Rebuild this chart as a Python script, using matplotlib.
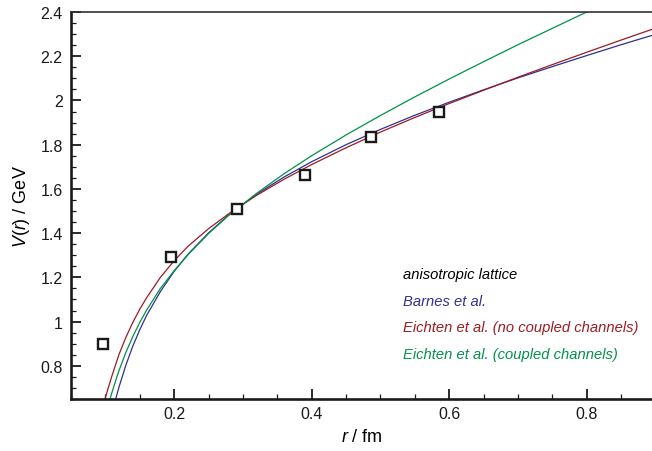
import matplotlib
matplotlib.use("Agg")
import matplotlib.pyplot as plt
from matplotlib.ticker import MultipleLocator, FuncFormatter

plt.rcParams['font.family'] = ['Liberation Sans', 'DejaVu Sans']
plt.rcParams['mathtext.fontset'] = 'custom'
plt.rcParams['mathtext.rm'] = 'Liberation Sans'
plt.rcParams['mathtext.it'] = 'Liberation Sans:italic'

# lattice data
lat_r = [0.097, 0.195, 0.292, 0.390, 0.487, 0.585]
lat_V = [0.900, 1.292, 1.510, 1.665, 1.837, 1.950]

# curves
r_grid = [0.095, 0.10, 0.105, 0.11, 0.115, 0.12, 0.13, 0.14, 0.15, 0.16, 0.18,
          0.20, 0.22, 0.25, 0.28, 0.32, 0.36, 0.40, 0.45, 0.50, 0.55, 0.60,
          0.65, 0.70, 0.75, 0.80, 0.85, 0.90]
V_barnes = [0.382, 0.459, 0.528, 0.592, 0.650, 0.706, 0.805, 0.890, 0.963, 1.028,
            1.136, 1.227, 1.304, 1.401, 1.484, 1.576, 1.654, 1.723, 1.800, 1.869,
            1.933, 1.992, 2.048, 2.102, 2.153, 2.203, 2.252, 2.299]
V_eichten_nc = [0.597, 0.656, 0.709, 0.759, 0.806, 0.853, 0.930, 0.997, 1.056, 1.108,
                1.200, 1.275, 1.340, 1.420, 1.489, 1.571, 1.644, 1.710, 1.786, 1.857,
                1.923, 1.986, 2.046, 2.105, 2.162, 2.218, 2.273, 2.327]
V_eichten_cc = [0.514, 0.576, 0.632, 0.684, 0.733, 0.780, 0.862, 0.933, 0.996, 1.052,
                1.150, 1.230, 1.302, 1.398, 1.482, 1.580, 1.669, 1.750, 1.844, 1.932,
                2.016, 2.097, 2.175, 2.252, 2.326, 2.400, 2.473, 2.545]

legend_labels = ["anisotropic lattice", "Barnes et al.",
                 "Eichten et al. (no coupled channels)",
                 "Eichten et al. (coupled channels)"]
c_blue = "#2e3192"
c_red = "#9b1c24"
c_green = "#00924a"

fig = plt.figure(figsize=(6.52, 4.52), dpi=100)
ax = fig.add_axes([71/652, 52/452, (652-71)/652, (400-13)/452])

ax.plot(r_grid, V_barnes, color=c_blue, lw=0.9, zorder=2)
ax.plot(r_grid, V_eichten_nc, color=c_red, lw=0.9, zorder=2)
ax.plot(r_grid, V_eichten_cc, color=c_green, lw=0.9, zorder=2)
ax.plot(lat_r, lat_V, linestyle='none', marker='s', markersize=6.5,
        markerfacecolor='white', markeredgecolor='#1a1a1a', markeredgewidth=1.7, zorder=3)

ax.set_xlim(0.05, 0.895)
ax.set_ylim(0.65, 2.4)

ax.xaxis.set_major_locator(MultipleLocator(0.2))
ax.xaxis.set_minor_locator(MultipleLocator(0.05))
ax.yaxis.set_major_locator(MultipleLocator(0.2))
ax.yaxis.set_minor_locator(MultipleLocator(0.05))
fmt = FuncFormatter(lambda v, p: "%g" % round(v, 3))
ax.xaxis.set_major_formatter(fmt)
ax.yaxis.set_major_formatter(fmt)

ax.tick_params(which='both', direction='in', top=False, right=False,
               colors='#1a1a1a', labelsize=11.5)
ax.tick_params(which='major', length=7.2, width=1.3, pad=6)
ax.tick_params(which='minor', length=3.6, width=0.9)
ax.tick_params(axis='x', which='major', pad=5)

for s in ['left', 'bottom']:
    ax.spines[s].set_linewidth(1.9)
    ax.spines[s].set_color('#1a1a1a')
ax.spines['top'].set_linewidth(1.2)
ax.spines['top'].set_color('#333333')
ax.spines['right'].set_visible(False)

ax.set_xlabel(r"$\mathit{r}$ / fm", fontsize=13, labelpad=5)
ax.set_ylabel(r"$\mathit{V(r)}$ / GeV", fontsize=13, labelpad=6)

ys = [275, 301.7, 328.3, 355]
cols = ['black', c_blue, c_red, c_green]
for lab, yp, col in zip(legend_labels, ys, cols):
    fig.text(403/652, 1 - yp/452, lab, color=col, fontsize=10.6,
             style='italic', va='center', ha='left')

fig.savefig("out.png", dpi=100)
